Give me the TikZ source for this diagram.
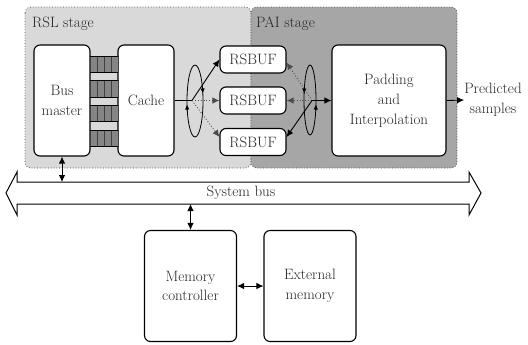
\documentclass[tikz,border=0pt]{standalone}
\usetikzlibrary{arrows.meta}
\definecolor{rslfill}{gray}{0.85}
\definecolor{paifill}{gray}{0.65}
\definecolor{cellfill}{gray}{0.52}
\definecolor{celledge}{gray}{0.25}
\begin{document}
\begin{tikzpicture}[x=1bp,y=-1bp,
  font=\fontsize{15bp}{19.5bp}\selectfont,
  block/.style={draw, line width=1.1bp, rounded corners=6bp, fill=white,
    align=center, inner sep=0pt, text=black!85},
  stagebox/.style={draw=black!75, dotted, line width=0.75bp, rounded corners=6bp},
  link/.style={line width=0.9bp},
  faint/.style={dotted, line width=0.9bp, draw=black!70},
  arrowto/.style={-{Latex[length=7bp,width=6.5bp]}},
  twoway/.style={{Latex[length=7bp,width=6.5bp]}-{Latex[length=7bp,width=6.5bp]}},
  turn/.style={-{Latex[length=5bp,width=4.5bp]}, line width=0.8bp},
  label/.style={text=black!85, inner sep=0pt}
]
\useasboundingbox (0,0) rectangle (528,344);

% pipeline stages
\path[stagebox, fill=rslfill] (25,7) rectangle (251,168);
\path[stagebox, fill=paifill] (251,7) rectangle (457,168);
\node[label, anchor=base west] (rsl) at (32,27) {RSL stage};
\node[label, anchor=base west] (pai) at (256,27) {PAI stage};

% blocks
\node[block, minimum width=56bp, minimum height=111bp] (bm) at (62,100.5) {Bus\\master};
\node[block, minimum width=56bp, minimum height=111bp] (cache) at (146,100.5) {Cache};
\node[block, minimum width=66bp, minimum height=27bp] (b1) at (253,59.5) {RSBUF};
\node[block, minimum width=66bp, minimum height=27bp] (b2) at (253,100.5) {RSBUF};
\node[block, minimum width=66bp, minimum height=27bp] (b3) at (253,142) {RSBUF};
\node[block, minimum width=114bp, minimum height=111bp,
  font=\fontsize{15bp}{20bp}\selectfont] (pad) at (389,100.5) {Padding\\and\\Interpolation};
\node[label, align=center] (pred) at (493,100) {Predicted\\samples};

% striped links between bus master and cache
\foreach \t in {56,80.5,105,130} {
  \foreach \k in {0,1,2,3}
    \draw[fill=cellfill, draw=celledge, line width=0.9bp]
      (90+7*\k,\t) rectangle (97+7*\k,\t+16.5);
  \draw[line width=0.9bp] (90,\t) -- (118,\t);
  \draw[line width=0.9bp] (90,\t+16.5) -- (118,\t+16.5);
}

% rotating selectors: ellipse plus two turning arrowheads each
\draw[line width=0.8bp] (195,101) ellipse (8 and 36);
\draw[turn] (202.5,87) -- (202.8,93.5);
\draw[turn] (187.25,111) -- (187.05,104.5);
\draw[line width=0.8bp] (310,100) ellipse (6 and 35);
\draw[turn] (315.7,111) -- (315.95,104.5);
\draw[turn] (304.4,87) -- (304.1,93.5);

\coordinate (jL) at (192,100.5);
\coordinate (jR) at (312,100.5);
\draw[link] (cache.east) -- (jL);
\draw[link, arrowto] (jL) -- (b1.west);
\draw[faint, arrowto] (jL) -- (b2.west);
\draw[faint, arrowto] (jL) -- ([yshift=5bp]b3.west);
\draw[faint, arrowto] (jR) -- ([yshift=-3bp]b1.east);
\draw[faint, arrowto] (jR) -- (b2.east);
\draw[link, arrowto] (jR) -- ([yshift=5bp]b3.east);
\draw[link, arrowto] (jR) -- (pad.west);
\draw[link, arrowto] (pad.east) -- (pred.west);

% system bus
\draw[line width=1bp, fill=white] (17,182) -- (469,182) -- (469,172) -- (481,193)
  -- (469,215) -- (469,204) -- (17,204) -- (17,215) -- (6,193) -- (17,172) -- cycle;
\node[label] (bus) at (241,193) {System bus};
\coordinate (busTop) at (62,182);
\coordinate (busBot) at (190.5,204);

% memory side
\node[block, minimum width=92bp, minimum height=111bp] (mc) at (190.5,286) {Memory\\controller};
\node[block, minimum width=92bp, minimum height=111bp] (em) at (310,286) {External\\memory};

\draw[link, twoway] (bm.south) -- (busTop);
\draw[link, twoway] (busBot) -- (mc.north);
\draw[link, twoway] (mc.east) -- (em.west);
\end{tikzpicture}
\end{document}
